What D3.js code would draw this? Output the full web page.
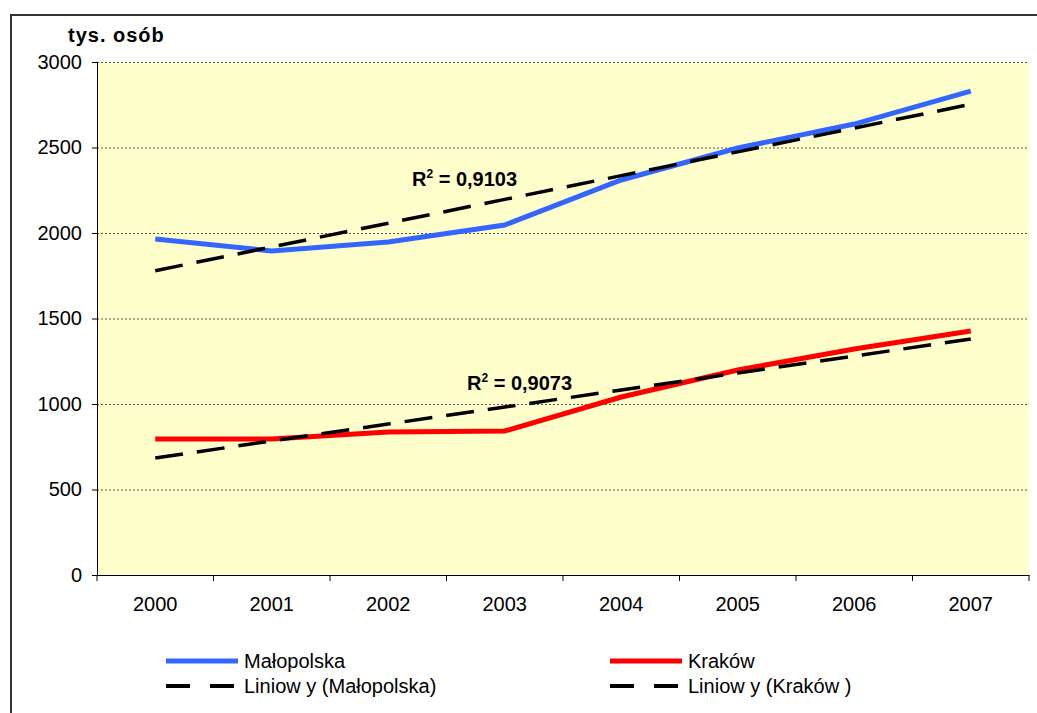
<!DOCTYPE html>
<html><head><meta charset="utf-8">
<script src="https://cdn.jsdelivr.net/npm/d3@7"></script>
<style>body{margin:0;background:#fff}svg{display:block;font-family:Arial,"Liberation Sans",sans-serif}</style>
</head><body><svg id="c" width="1037" height="713"></svg>
<script>
const years = ["2000","2001","2002","2003","2004","2005","2006","2007"];
const malopolska = [1965,1895,1947,2047,2310,2497,2637,2830];
const krakow = [795,795,836,842,1041,1199,1322,1427];
const yTicks = [0,500,1000,1500,2000,2500,3000];
const r2Labels = ["0,9103","0,9073"];
const legendLabels = ["Małopolska","Kraków","Liniow y (Małopolska)","Liniow y (Kraków )"];

const svg = d3.select("#c");
const L=97,R=1029,T=62,B=575;
svg.append("rect").attr("x",11).attr("y",15).attr("width",1100).attr("height",800)
  .attr("fill","#fff").attr("stroke","#333").attr("stroke-width",2);
svg.append("rect").attr("x",L).attr("y",T).attr("width",R-L).attr("height",B-T).attr("fill","#FFFFCC");

const x = d3.scaleBand().domain(years).range([L,R]);
const y = d3.scaleLinear().domain([0,3000]).range([B,T]);
const cx = d => x(d)+x.bandwidth()/2;

// gridlines
svg.append("g").selectAll("line").data(yTicks.filter(v=>v>0)).join("line")
  .attr("x1",L).attr("x2",R).attr("y1",d=>y(d)+0.5).attr("y2",d=>y(d)+0.5)
  .attr("stroke","#555").attr("stroke-width",1).attr("stroke-dasharray","2,2");

// axes
const ya = svg.append("g").attr("transform",`translate(${L},0)`)
  .call(d3.axisLeft(y).tickValues(yTicks).tickSize(5).tickPadding(10).tickFormat(d3.format("d")));
ya.select(".domain").attr("stroke","#000");
ya.selectAll("text").attr("font-size",20).attr("fill","#000").attr("font-family","Arial, Liberation Sans");
const xa = svg.append("g").attr("transform",`translate(0,${B})`)
  .call(d3.axisBottom(x).tickSize(0).tickPadding(22));
xa.select(".domain").attr("stroke","#000");
xa.selectAll("text").attr("font-size",20).attr("fill","#000").attr("font-family","Arial, Liberation Sans");
svg.append("g").selectAll("line").data(d3.range(years.length+1)).join("line")
  .attr("x1",i=>L+i*x.step()).attr("x2",i=>L+i*x.step()).attr("y1",B).attr("y2",B+6)
  .attr("stroke","#000");

// trends
function trend(vals){
  const n=vals.length, xs=d3.range(n), mx=d3.mean(xs), my=d3.mean(vals);
  const s=d3.sum(xs,(i)=>(i-mx)*(vals[i]-my))/d3.sum(xs,i=>(i-mx)**2);
  return xs.map(i=>my+s*(i-mx));
}
const line = d3.line().x((d,i)=>cx(years[i])).y(d=>y(d));
[[malopolska,"#3366FF"],[krakow,"#FF0000"]].forEach(([v,c])=>{
  svg.append("path").attr("d",line(v)).attr("fill","none").attr("stroke",c).attr("stroke-width",5);
});
[malopolska,krakow].forEach(v=>{
  svg.append("path").attr("d",line(trend(v))).attr("fill","none").attr("stroke","#000")
    .attr("stroke-width",3.5).attr("stroke-dasharray","28,14");
});

// labels
svg.append("text").attr("x",68).attr("y",42).attr("font-size",20).attr("font-weight","bold")
  .attr("letter-spacing",1).text("tys. osób");
function r2(xp,yp,val){
  const t=svg.append("text").attr("x",xp).attr("y",yp).attr("font-size",20).attr("font-weight","bold");
  t.append("tspan").text("R");
  t.append("tspan").attr("font-size",12).attr("dy",-8).text("2");
  t.append("tspan").attr("dy",8).text(" = "+val);
}
r2(412,186,r2Labels[0]);
r2(467,390,r2Labels[1]);

// legend
const leg=[{x:166,y:661,c:"#3366FF",d:null,t:legendLabels[0]},{x:610,y:661,c:"#FF0000",d:null,t:legendLabels[1]},
 {x:166,y:686,c:"#000",d:"24,20",t:legendLabels[2]},{x:610,y:686,c:"#000",d:"24,20",t:legendLabels[3]}];
leg.forEach(l=>{
  svg.append("line").attr("x1",l.x).attr("x2",l.x+72).attr("y1",l.y).attr("y2",l.y)
    .attr("stroke",l.c).attr("stroke-width",l.d?4:5).attr("stroke-dasharray",l.d);
  svg.append("text").attr("x",l.x+78).attr("y",l.y+7).attr("font-size",20).text(l.t);
});
</script></body></html>
